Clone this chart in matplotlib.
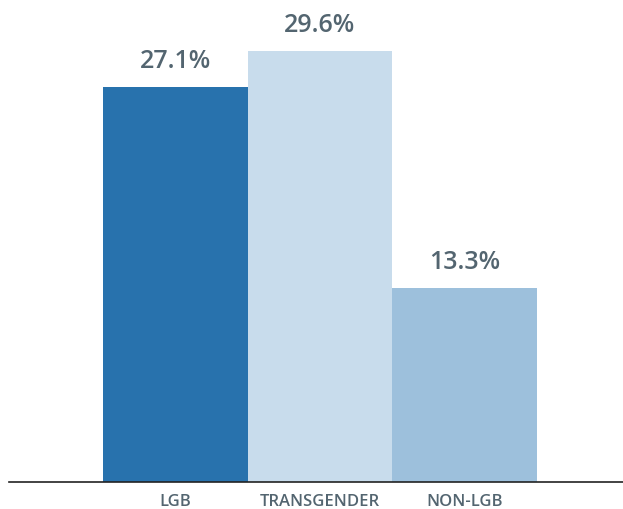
import matplotlib.pyplot as plt

categories = ["LGB", "TRANSGENDER", "NON-LGB"]
values = [27.1, 29.6, 13.3]
colors = ["#2872ad", "#c8dcec", "#9dc0dc"]

plt.rcParams['font.family'] = ['Open Sans', 'DejaVu Sans']
text_color = "#536570"

fig = plt.figure(figsize=(6.23, 5.10), dpi=100)
ax = fig.add_axes([9 / 623, 27 / 510, 1 - 9 / 623, 483 / 510])

x = range(len(categories))
bars = ax.bar(x, values, width=1.0, color=colors)

for b, v in zip(bars, values):
    ax.annotate(f"{v}%", (b.get_x() + b.get_width() / 2, v),
                xytext=(0, 10), textcoords="offset points",
                ha="center", va="bottom", fontsize=18, fontweight="semibold",
                color=text_color)

ax.set_xlim(-1.15, 3.095)
ax.set_ylim(0, 33.15)
ax.set_xticks(list(x))
ax.set_xticklabels(categories, fontsize=12, fontweight="semibold", color=text_color)
ax.tick_params(axis="x", length=0, pad=8)
ax.set_yticks([])
for side in ["top", "right", "left"]:
    ax.spines[side].set_visible(False)
ax.spines["bottom"].set_color("#222222")
ax.spines["bottom"].set_linewidth(1.2)

fig.savefig("out.png", dpi=100)
